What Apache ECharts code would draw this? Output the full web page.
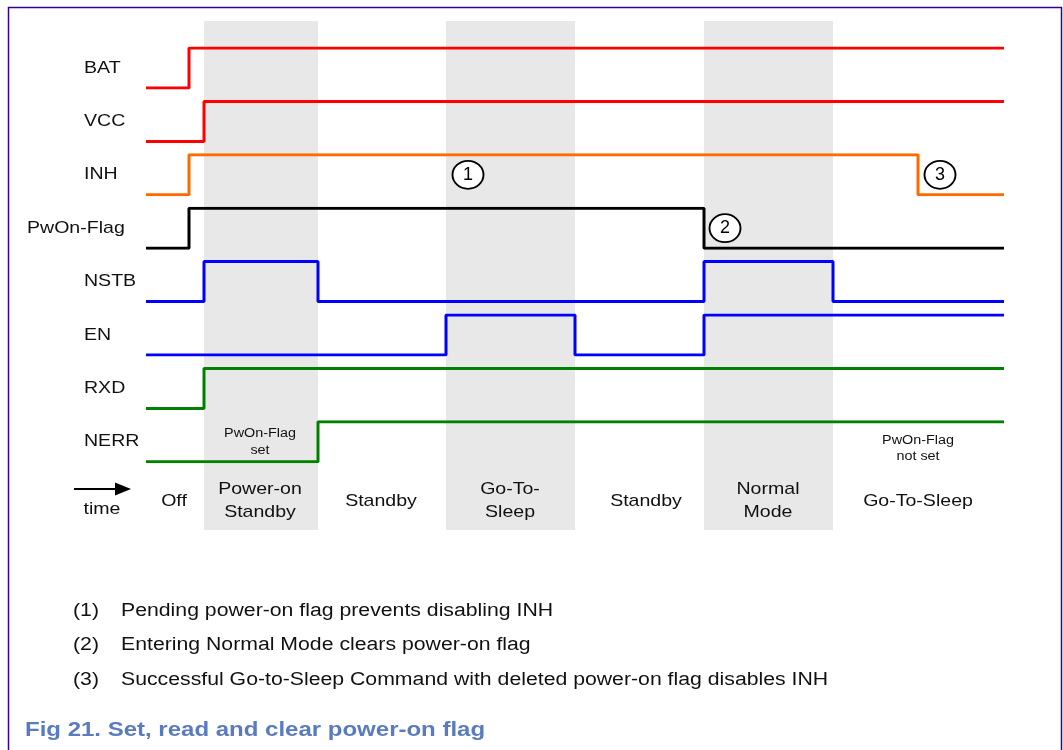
<!DOCTYPE html>
<html><head><meta charset="utf-8">
<script src="https://cdn.jsdelivr.net/npm/echarts@6/dist/echarts.min.js"></script>
<style>html,body{margin:0;padding:0;background:#fff}#c{width:1063px;height:750px}</style>
</head><body><div id="c"></div>
<script>
// ---- data (time units along the diagram, level 0 = low, 1 = high; a level holds until the next point)
const signalNames = ['BAT', 'VCC', 'INH', 'PwOn-Flag', 'NSTB', 'EN', 'RXD', 'NERR'];
const BAT  = [[0, 0], [43, 1], [858, 1]];
const VCC  = [[0, 0], [58, 1], [858, 1]];
const INH  = [[0, 0], [43, 1], [772, 0], [858, 0]];
const PWON = [[0, 0], [43, 1], [558, 0], [858, 0]];
const NSTB = [[0, 0], [58, 1], [172, 0], [558, 1], [687, 0], [858, 0]];
const EN   = [[0, 0], [300, 1], [429, 0], [558, 1], [858, 1]];
const RXD  = [[0, 0], [58, 1], [858, 1]];
const NERR = [[0, 0], [172, 1], [858, 1]];
const signalData = [BAT, VCC, INH, PWON, NSTB, EN, RXD, NERR];

const phaseNames  = ['Off', 'Power-on\nStandby', 'Standby', 'Go-To-\nSleep', 'Standby', 'Normal\nMode', 'Go-To-Sleep'];
const phaseStart  = [0, 58, 172, 300, 429, 558, 687];
const phaseEnd    = [58, 172, 300, 429, 558, 687, 858];
const phaseShaded = [false, true, false, true, false, true, false];
const phaseLabelT = [28, 114, 235, 364, 500, 622, 772];

const markerNums   = ['1', '2', '3'];
const markerSignal = [2, 3, 2];
const markerT      = [322, 579, 794];
const markerLevel  = [0.5, 0.5, 0.5];

const flagNotes      = ['PwOn-Flag\nset', 'PwOn-Flag\nnot set'];
const flagNoteT      = [114, 772];
const flagNoteLevel  = [0.5, 0.33];

const footnoteNums  = ['(1)', '(2)', '(3)'];
const footnoteTexts = [
  'Pending power-on flag prevents disabling INH',
  'Entering Normal Mode clears power-on flag',
  'Successful Go-to-Sleep Command with deleted power-on flag disables INH'
];
const captionText = 'Fig 21. Set, read and clear power-on flag';

// ---- styles / layout
const signalColors = ['#ff0000', '#ff0000', '#ff6a00', '#000000', '#0000ff', '#0000ff', '#008000', '#008000'];
const FONT = 'Liberation Sans, Arial, sans-serif';
const GL = 146, GW = 858, T_MAX = 858;
const ROW0 = 48, ROWSTEP = 53.4, ROWH = 40;
const SX = 1.15;

const chart = echarts.init(document.getElementById('c'), null, {renderer: 'canvas'});

const grids = [], xAxes = [], yAxes = [], series = [];
signalNames.forEach((n, i) => {
  grids.push({left: GL, width: GW, top: ROW0 + ROWSTEP * i, height: ROWH});
  xAxes.push({type: 'value', gridIndex: i, min: 0, max: T_MAX, show: false});
  yAxes.push({type: 'value', gridIndex: i, min: 0, max: 1, show: false});
});
// band grid
const BAND = signalNames.length;
grids.push({left: GL, width: GW, top: 21, height: 509});
xAxes.push({type: 'value', gridIndex: BAND, min: 0, max: T_MAX, show: false});
yAxes.push({type: 'value', gridIndex: BAND, min: 0, max: 509, inverse: true, show: false});

series.push({
  type: 'line', xAxisIndex: BAND, yAxisIndex: BAND, data: [[0, 0]], symbol: 'none',
  lineStyle: {width: 0}, silent: true, z: 1,
  markArea: {
    silent: true,
    itemStyle: {color: '#e8e8e8'},
    data: phaseNames.map((p, k) => phaseShaded[k] ? [{xAxis: phaseStart[k]}, {xAxis: phaseEnd[k]}] : null).filter(Boolean)
  }
});

signalNames.forEach((n, i) => {
  const s = {
    type: 'line', name: n, xAxisIndex: i, yAxisIndex: i, step: 'end', symbol: 'none',
    data: signalData[i], lineStyle: {width: 3, color: signalColors[i]}, z: 5, silent: true
  };
  const mk = [];
  markerNums.forEach((m, k) => { if (markerSignal[k] === i) mk.push({name: m, coord: [markerT[k], markerLevel[k]]}); });
  if (mk.length) {
    s.markPoint = {
      symbol: 'circle', symbolSize: [31, 28], silent: true,
      itemStyle: {color: '#ffffff', borderColor: '#000', borderWidth: 1.8},
      label: {show: true, position: 'inside', formatter: p => p.name, color: '#000', fontSize: 18, fontFamily: FONT},
      data: mk
    };
  }
  series.push(s);
});

chart.setOption({
  animation: false,
  backgroundColor: '#ffffff',
  grid: grids, xAxis: xAxes, yAxis: yAxes, series: series
});

// ---- text drawn as graphic, placed via the chart's own scales
function txt(x, y, text, o) {
  o = o || {};
  return {
    type: 'text', x: x, y: y, scaleX: o.sx || SX, silent: true, z: 100,
    style: {
      text: text, x: 0, y: 0,
      fill: o.color || '#111',
      fontSize: o.size || 17, fontFamily: FONT, fontWeight: o.weight || 'normal',
      align: o.align || 'center', verticalAlign: 'middle',
      textAlign: o.align || 'center', textVerticalAlign: 'middle',
      lineHeight: o.lh || 23
    }
  };
}
const g = [];
g.push({type: 'rect', silent: true, z: 0, shape: {x: 8.5, y: 7.5, width: 1053, height: 800},
        style: {fill: 'none', stroke: '#33008f', lineWidth: 1.5}});
signalNames.forEach((n, i) => {
  const p = chart.convertToPixel({gridIndex: i}, [0, 0.5]);
  g.push(txt(n === 'PwOn-Flag' ? 27 : 84, p[1], n, {align: 'left'}));
});
phaseNames.forEach((n, k) => {
  const p = chart.convertToPixel({gridIndex: BAND}, [phaseLabelT[k], 480]);
  g.push(txt(p[0], p[1], n, {lh: 23.5}));
});
flagNotes.forEach((n, k) => {
  const p = chart.convertToPixel({gridIndex: 7}, [flagNoteT[k], flagNoteLevel[k]]);
  g.push(txt(p[0], p[1], n, {size: 12.5, lh: 16.5}));
});
// time arrow
g.push({type: 'line', silent: true, shape: {x1: 74, y1: 489, x2: 120, y2: 489}, style: {stroke: '#000', lineWidth: 2}});
g.push({type: 'polygon', silent: true, shape: {points: [[115, 482.5], [131, 489], [115, 495.5]]}, style: {fill: '#000'}});
g.push(txt(102, 509, 'time'));
// footnotes
const fy = [611, 645, 680];
footnoteNums.forEach((n, k) => {
  g.push(txt(73, fy[k], n, {align: 'left', size: 18, sx: 1.18}));
  g.push(txt(121, fy[k], footnoteTexts[k], {align: 'left', size: 18, sx: 1.18}));
});
g.push(txt(25, 730, captionText, {align: 'left', size: 20, sx: 1.2, weight: 'bold', color: '#5a7bbf'}));

chart.setOption({graphic: g});
</script>
</body></html>
